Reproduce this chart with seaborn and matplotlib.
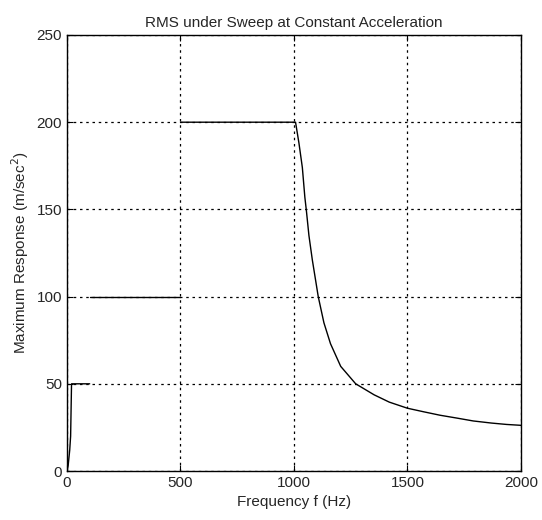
import matplotlib
matplotlib.use("Agg")
import matplotlib.pyplot as plt
import seaborn as sns
import pandas as pd

freq = [0, 5, 12, 16, 20, 100,
        100, 500,
        500, 1000, 1007, 1022, 1037, 1048, 1055, 1066, 1081, 1107,
        1132, 1161, 1206, 1272, 1353, 1420, 1500, 1570, 1643, 1720,
        1790, 1870, 1937, 2000]
resp = [0, 3, 12, 20, 50, 50,
        100, 100,
        200, 200, 200, 188, 174, 157, 149, 135, 121, 100,
        85, 73, 60, 50, 43.7, 39.5, 36, 34, 32, 30.3,
        28.7, 27.5, 26.7, 26.2]
segment = [0] * 6 + [1] * 2 + [2] * 24

df = pd.DataFrame({"f": freq, "r": resp, "seg": segment})

sns.set_style("white")
plt.rcParams["font.family"] = ["Liberation Sans Narrow", "Liberation Sans", "DejaVu Sans"]

fig = plt.figure(figsize=(5.42, 5.20), dpi=100)
ax = fig.add_axes([0.1236, 0.0942, 0.8375, 0.8385])

sns.lineplot(data=df, x="f", y="r", sort=False, estimator=None, units="seg",
             color="black", linewidth=1.0, ax=ax, legend=False)

ax.set_xlim(0, 2000)
ax.set_ylim(0, 250)
ax.set_xticks([0, 500, 1000, 1500, 2000])
ax.set_yticks([0, 50, 100, 150, 200, 250])
ax.grid(True, color="black", linestyle=(0, (2, 3)), linewidth=0.9)
ax.tick_params(direction="in", length=4, labelsize=11, color="black",
               top=True, right=True, bottom=True, left=True)
for s in ax.spines.values():
    s.set_color("black")
    s.set_linewidth(1.0)
    s.set_visible(True)

ax.set_xlabel("Frequency f (Hz)", fontsize=11)
ax.set_ylabel("Maximum Response (m/sec$^2$)", fontsize=11)
ax.set_title("RMS under Sweep at Constant Acceleration", fontsize=11, pad=6)

fig.savefig("out.png", dpi=100)
